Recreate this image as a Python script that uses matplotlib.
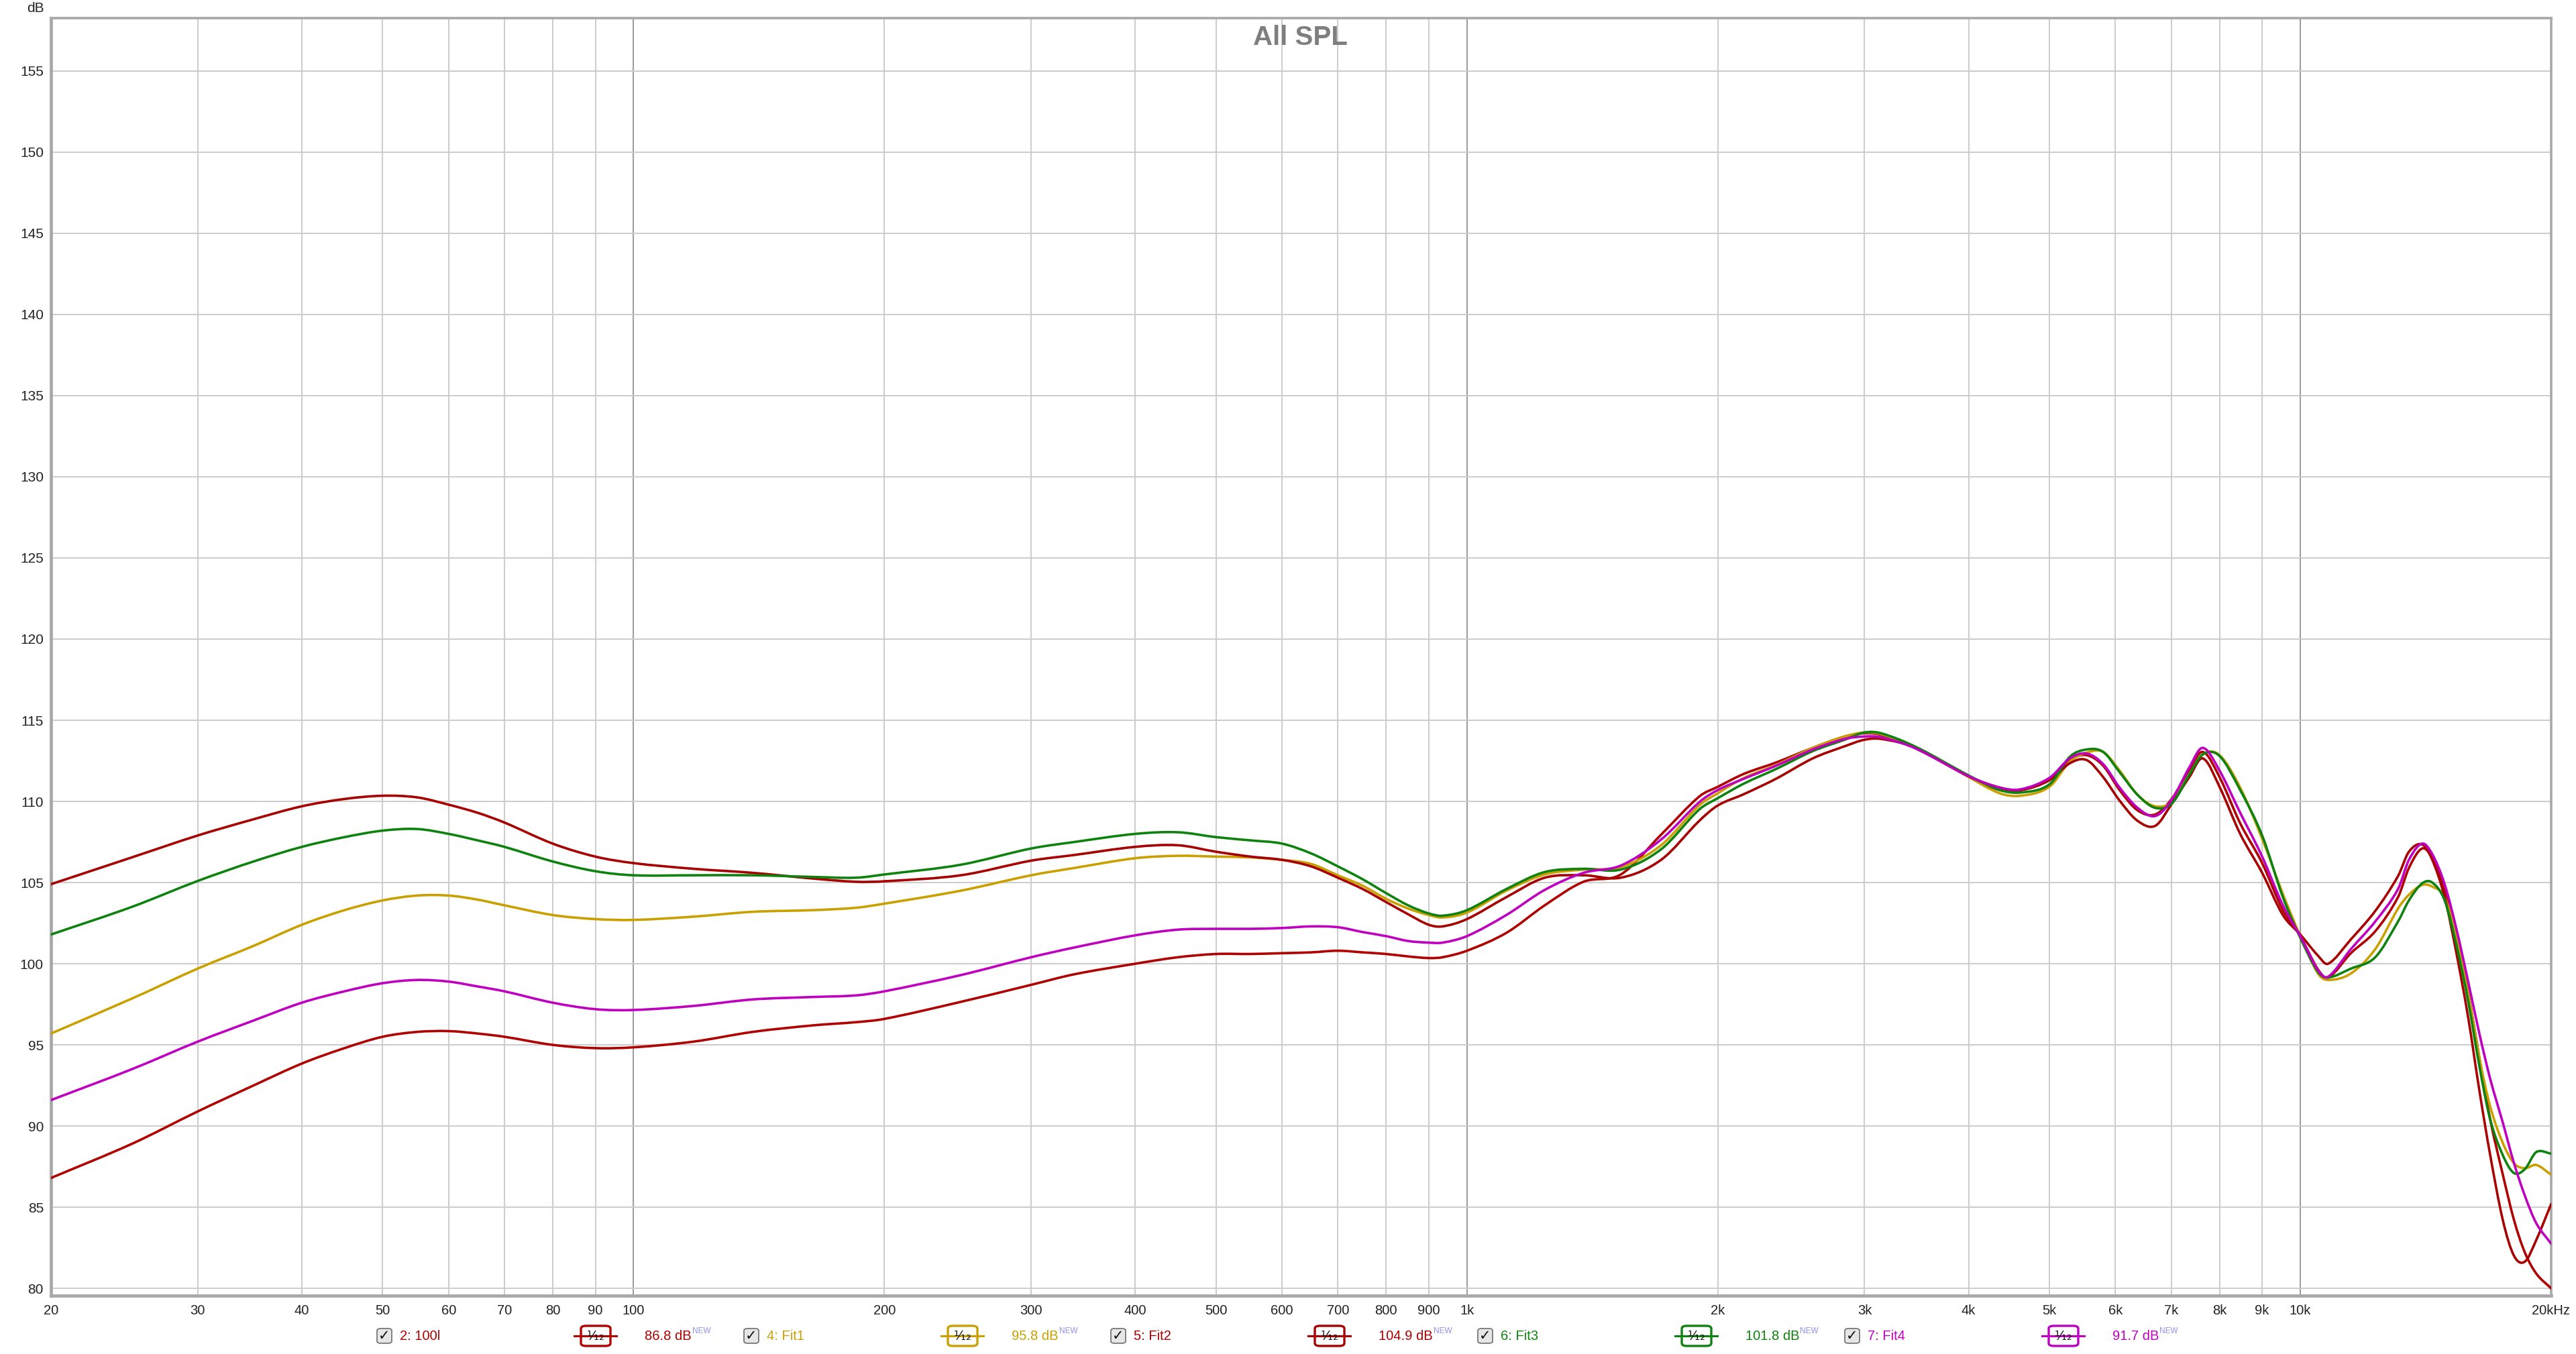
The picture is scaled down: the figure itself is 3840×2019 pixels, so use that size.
import numpy as np
import matplotlib.pyplot as plt
from matplotlib.patches import FancyBboxPatch, PathPatch
from matplotlib.path import Path
from matplotlib.lines import Line2D

plt.rcParams['font.family'] = ['Liberation Sans', 'DejaVu Sans']

# frequency grid (Hz) the curves were read at
freq = [20, 25, 30, 35, 40, 45, 50, 55, 60, 65,
        70, 80, 90, 100, 118, 139, 164, 185, 200, 247,
        300, 338, 400, 450, 500, 550, 600, 650, 700, 750,
        800, 850, 900, 935, 1000, 1115, 1240, 1380, 1530, 1710,
        1900, 2000, 2150, 2350, 2600, 2840, 3000, 3140, 3460, 4000,
        4360, 4620, 5000, 5290, 5540, 5800, 6070, 6380, 6700, 7020,
        7360, 7640, 8000, 8470, 9000, 9530, 10000, 10500, 10800, 11500,
        12300, 13100, 13500, 14000, 14400, 14900, 15400, 15900, 16400, 16900,
        17500, 18050, 18600, 19200, 20000]

spl_100l = [86.8, 88.9, 90.9, 92.5, 93.85, 94.8, 95.5, 95.8, 95.85, 95.7,
            95.5, 95.0, 94.8, 94.85, 95.2, 95.8, 96.2, 96.4, 96.6, 97.65,
            98.7, 99.35, 100.0, 100.4, 100.6, 100.6, 100.65, 100.7, 100.8, 100.7,
            100.6, 100.45, 100.35, 100.4, 100.8, 101.9, 103.6, 105.05, 105.5, 107.95,
            110.3, 110.9, 111.7, 112.4, 113.3, 114.0, 114.2, 114.1, 113.25, 111.55,
            110.7, 110.7, 111.35, 112.55, 112.85, 112.2, 110.7, 109.45, 109.2, 110.2,
            111.95, 113.05, 111.5, 108.65, 106.2, 103.3, 101.7, 99.65, 99.15, 100.65,
            102.0, 104.1, 105.9, 107.1, 106.5, 104.5, 101.6, 98.2, 94.2, 90.4,
            87.0, 84.2, 82.2, 80.9, 80.0]

spl_fit1 = [95.7, 97.85, 99.7, 101.1, 102.4, 103.3, 103.9, 104.2, 104.2, 103.95,
            103.6, 103.0, 102.75, 102.7, 102.9, 103.2, 103.3, 103.45, 103.7, 104.5,
            105.45, 105.9, 106.5, 106.65, 106.6, 106.55, 106.4, 106.15, 105.45, 104.8,
            104.0, 103.4, 103.0, 102.85, 103.15, 104.5, 105.5, 105.8, 105.95, 107.3,
            109.75, 110.5, 111.45, 112.25, 113.3, 114.0, 114.25, 114.15, 113.3, 111.5,
            110.5, 110.35, 110.9, 112.45, 113.0, 113.05, 111.9, 110.4, 109.7, 110.0,
            111.6, 112.9, 112.85, 110.85, 107.7, 104.3, 101.7, 99.4, 99.0, 99.4,
            100.9, 103.4, 104.25, 104.85, 104.75, 104.1, 101.6, 98.2, 94.2, 91.2,
            88.95, 87.7, 87.4, 87.6, 87.0]

spl_fit2 = [104.9, 106.55, 107.9, 108.9, 109.7, 110.15, 110.35, 110.25, 109.8, 109.3,
            108.7, 107.4, 106.6, 106.2, 105.85, 105.6, 105.25, 105.05, 105.08, 105.45,
            106.35, 106.7, 107.2, 107.3, 106.9, 106.6, 106.4, 106.0, 105.3, 104.6,
            103.8, 103.05, 102.4, 102.3, 102.75, 104.1, 105.3, 105.45, 105.3, 106.4,
            108.8, 109.75, 110.45, 111.4, 112.65, 113.4, 113.8, 113.85, 113.3, 111.55,
            110.85, 110.7, 111.3, 112.35, 112.55, 111.5, 110.05, 108.8, 108.5, 109.9,
            111.5, 112.65, 110.9, 108.0, 105.6, 103.0, 101.8, 100.5, 100.0, 101.5,
            103.25, 105.4, 106.9, 107.35, 106.4, 104.1, 100.6, 96.7, 92.2, 88.2,
            84.2, 82.0, 81.65, 83.0, 85.2]

spl_fit3 = [101.8, 103.5, 105.1, 106.3, 107.2, 107.8, 108.2, 108.3, 108.0, 107.6,
            107.2, 106.3, 105.7, 105.45, 105.45, 105.45, 105.35, 105.3, 105.5, 106.1,
            107.1, 107.5, 108.0, 108.1, 107.8, 107.6, 107.4, 106.8, 106.0, 105.2,
            104.35, 103.6, 103.1, 102.96, 103.3, 104.6, 105.65, 105.85, 105.8, 107.05,
            109.5, 110.2, 111.1, 112.0, 113.1, 113.8, 114.25, 114.2, 113.35, 111.6,
            110.7, 110.55, 111.05, 112.75, 113.2, 113.05, 111.8, 110.4, 109.6, 109.9,
            111.65, 112.9, 112.8, 110.7, 107.9, 104.1, 101.6, 99.5, 99.15, 99.7,
            100.4, 102.6, 103.9, 104.95, 105.0, 103.9, 101.1, 97.7, 93.7, 90.4,
            88.2, 87.1, 87.35, 88.4, 88.3]

spl_fit4 = [91.6, 93.5, 95.2, 96.5, 97.6, 98.3, 98.8, 99.0, 98.9, 98.6,
            98.3, 97.6, 97.2, 97.15, 97.4, 97.8, 97.95, 98.05, 98.3, 99.3,
            100.4, 101.0, 101.75, 102.1, 102.15, 102.15, 102.2, 102.3, 102.25, 101.95,
            101.7, 101.4, 101.3, 101.3, 101.7, 103.0, 104.55, 105.6, 106.05, 107.65,
            109.95, 110.7, 111.4, 112.2, 113.2, 113.85, 114.0, 113.95, 113.25, 111.55,
            110.85, 110.75, 111.45, 112.65, 112.95, 112.3, 110.85, 109.6, 109.1, 110.15,
            112.1, 113.3, 111.9, 109.3, 106.6, 103.6, 101.7, 99.6, 99.2, 100.9,
            102.6, 104.6, 106.4, 107.4, 106.75, 104.9, 102.1, 98.9, 95.7, 92.9,
            90.2, 87.7, 85.7, 84.0, 82.75]

labels = ['2: 100l', '4: Fit1', '5: Fit2', '6: Fit3', '7: Fit4']
levels = ['86.8 dB', '95.8 dB', '104.9 dB', '101.8 dB', '91.7 dB']
colors = ['#b00000', '#c9a000', '#a80000', '#0e820e', '#c000c0']
series = [spl_100l, spl_fit1, spl_fit2, spl_fit3, spl_fit4]

xticks = [20, 30, 40, 50, 60, 70, 80, 90, 100, 200, 300, 400, 500, 600, 700,
          800, 900, 1000, 2000, 3000, 4000, 5000, 6000, 7000, 8000, 9000,
          10000, 20000]
xticklabels = ['20', '30', '40', '50', '60', '70', '80', '90', '100', '200',
               '300', '400', '500', '600', '700', '800', '900', '1k', '2k',
               '3k', '4k', '5k', '6k', '7k', '8k', '9k', '10k', '20kHz']
yticks = list(range(80, 160, 5))


def smooth_path(f, v):
    # cubic bezier through the read points (hermite in log-frequency)
    lx = np.log10(f)
    v = np.asarray(v, float)
    n = len(lx)
    m = np.empty(n)
    m[0] = (v[1] - v[0]) / (lx[1] - lx[0])
    m[-1] = (v[-1] - v[-2]) / (lx[-1] - lx[-2])
    m[1:-1] = (v[2:] - v[:-2]) / (lx[2:] - lx[:-2])
    verts = [(f[0], v[0])]
    codes = [Path.MOVETO]
    for i in range(n - 1):
        h = lx[i + 1] - lx[i]
        verts += [(10 ** (lx[i] + h / 3), v[i] + m[i] * h / 3),
                  (10 ** (lx[i + 1] - h / 3), v[i + 1] - m[i + 1] * h / 3),
                  (f[i + 1], v[i + 1])]
        codes += [Path.CURVE4] * 3
    return Path(verts, codes)


W, H = 3840, 2019
fig = plt.figure(figsize=(W / 100, H / 100), dpi=100)
ax = fig.add_axes([76 / W, 1 - 1932 / H, (3803 - 76) / W, (1932 - 27) / H])
ax.set_xscale('log')

for vals, c in zip(series, colors):
    ax.add_patch(PathPatch(smooth_path(freq, vals), fc='none', ec=c, lw=2.6,
                           capstyle='round', joinstyle='round', zorder=3))

ax.set_xlim(20, 20000)
ax.set_ylim(79.55, 158.26)
ax.set_xticks(xticks)
ax.set_xticklabels(xticklabels)
ax.xaxis.set_minor_locator(plt.NullLocator())
ax.set_yticks(yticks)
ax.tick_params(axis='both', length=0, labelcolor='#222222')
ax.tick_params(axis='x', pad=9, labelsize=14.5)
ax.tick_params(axis='y', pad=8, labelsize=15)

ax.grid(True, color='#cccccc', lw=1.4, zorder=0)
for line, f in zip(ax.get_xgridlines(), xticks):
    if f in (100, 1000, 10000):
        line.set_color('#9a9a9a')
for s in ax.spines.values():
    s.set_color('#a8a8a8')
    s.set_linewidth(2.6)
ax.spines['left'].set_linewidth(3.4)
ax.spines['bottom'].set_linewidth(3.4)

fig.text(66 / W, 1 - 12 / H, 'dB', ha='right', va='center', fontsize=15,
         color='#222222')
fig.text(1938 / W, 1 - 56 / H, 'All SPL', ha='center', va='center',
         fontsize=29, weight='bold', color='#7f7f7f')

# legend strip under the axis
ly = 1 - 1992 / H
for i, (lab, lev, c) in enumerate(zip(labels, levels, colors)):
    gx = 561 + i * 547
    fig.patches.append(FancyBboxPatch(((gx + 1) / W, 1 - 2003 / H), 22 / W, 22 / H,
                                      boxstyle='round,pad=0,rounding_size=0.0015',
                                      transform=fig.transFigure, fc='#e6e6e6',
                                      ec='#6e6e6e', lw=1.2))
    fig.text((gx + 12) / W, ly, '\u2713', ha='center', va='center', fontsize=15,
             weight='bold', color='#111111', family=['DejaVu Sans'])
    fig.text((gx + 35) / W, ly, lab, ha='left', va='center', fontsize=14.5,
             color=c)
    fig.lines.append(Line2D([(gx + 295) / W, (gx + 358) / W], [ly, ly],
                            transform=fig.transFigure, color=c, lw=2.2))
    fig.patches.append(FancyBboxPatch(((gx + 305) / W, 1 - 2007 / H), 44 / W, 30 / H,
                                      boxstyle='round,pad=0,rounding_size=0.002',
                                      transform=fig.transFigure, fc='white',
                                      ec=c, lw=2.4))
    fig.text((gx + 327) / W, ly, '\u00b9\u2044\u2081\u2082', ha='center',
             va='center', fontsize=14, color='#111111', family=['DejaVu Sans'])
    t = fig.text((gx + 400) / W, ly, lev, ha='left', va='center', fontsize=14.5,
                 color=c)
    fig.canvas.draw()
    bb = t.get_window_extent()
    fig.text(bb.x1 / W + 1 / W, ly + 7 / H, 'NEW', ha='left', va='center',
             fontsize=8.5, color='#8f8ff0')

fig.savefig('out.png', dpi=100, facecolor='white')
